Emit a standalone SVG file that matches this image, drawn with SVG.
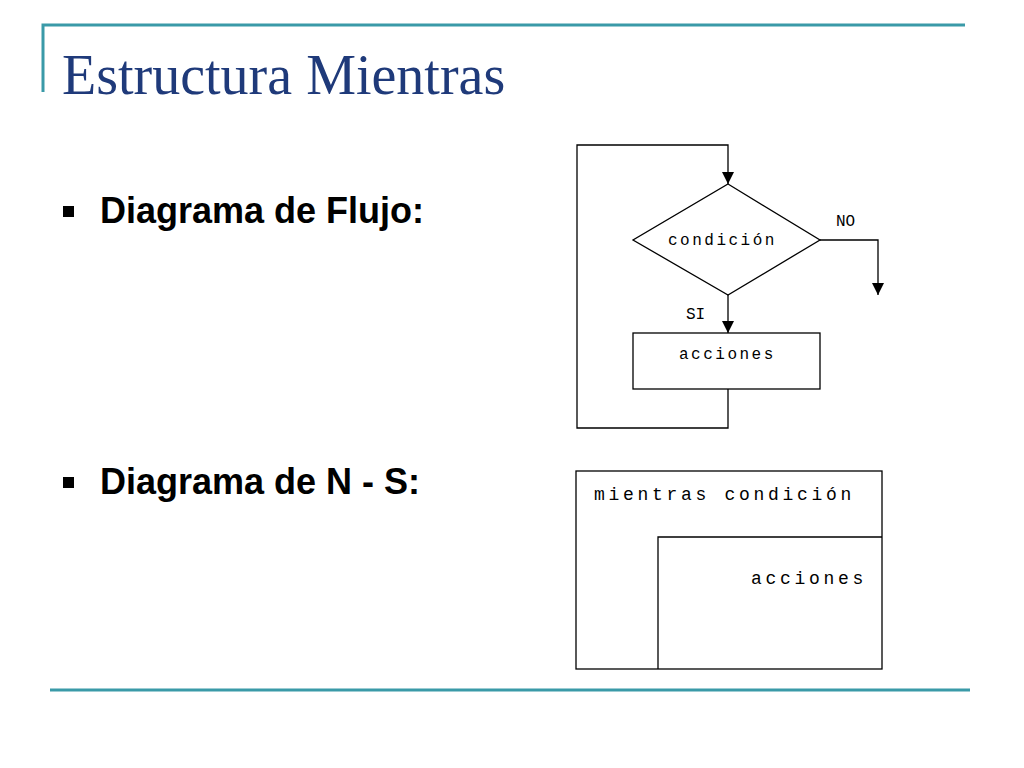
<svg xmlns="http://www.w3.org/2000/svg" width="1024" height="768" viewBox="0 0 1024 768">
<style>
.ln{stroke:#000;stroke-width:1.3;fill:none}
.sh{stroke:#000;stroke-width:1.3;fill:#fff}
.m{font-family:"Liberation Mono",monospace;font-size:16px;fill:#000;letter-spacing:2.5px}
.n{font-size:18px;letter-spacing:3.7px}
.b{font-family:"Liberation Sans",Arial,sans-serif;font-weight:bold;font-size:36px;fill:#000}
</style>
<defs><marker id="a" viewBox="0 0 10 10" refX="10" refY="5" markerWidth="12" markerHeight="12" markerUnits="userSpaceOnUse" orient="auto"><path d="M0,0L10,5L0,10z" fill="#000"/></marker></defs>
<rect width="1024" height="768" fill="#fff"/>
<g id="frame" stroke="#3a9aa8" stroke-width="3" fill="none">
<path d="M43,92V25H965"/>
<path d="M50,690H970"/>
</g>
<text x="62" y="94" font-family="Liberation Serif,serif" font-size="56" fill="#1f3a7a">Estructura Mientras</text>
<rect x="63" y="206" width="11" height="11" fill="#000"/>
<text class="b" x="100" y="223">Diagrama de Flujo:</text>
<rect x="63" y="477" width="11" height="11" fill="#000"/>
<text class="b" x="100" y="494">Diagrama de N - S:</text>
<g id="connectors">
<path class="ln" d="M728,389V428H577V145H728V184" marker-end="url(#a)"/>
<path class="ln" d="M820,240H878V295" marker-end="url(#a)"/>
<path class="ln" d="M728,295V333" marker-end="url(#a)"/>
</g>
<g id="cond"><polygon class="sh" points="728,184 820,240 728,295 633,240"/><text class="m" x="668" y="245">condición</text></g>
<g id="acc"><rect class="sh" x="633" y="333" width="187" height="56"/><text class="m" x="679" y="359">acciones</text></g>
<text class="m" x="836" y="226" font-size="14" style="letter-spacing:0">NO</text>
<text class="m" x="686" y="319" font-size="14" style="letter-spacing:0">SI</text>
<g id="ns">
<rect class="sh" x="576" y="471" width="306" height="198"/>
<path class="ln" d="M658,669V537H882"/>
<text class="m n" x="594" y="500">mientras condición</text>
<text class="m n" x="751" y="584">acciones</text>
</g>
</svg>
